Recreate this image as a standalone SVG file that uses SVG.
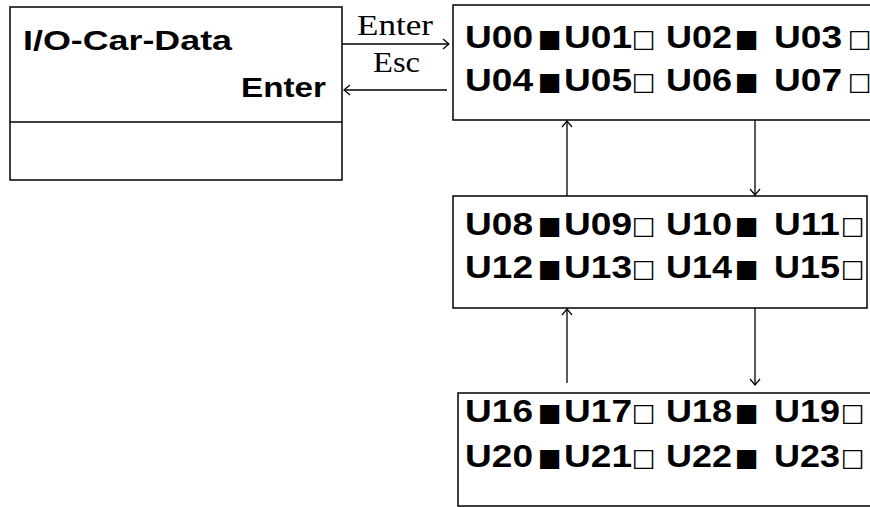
<svg xmlns="http://www.w3.org/2000/svg" width="870" height="507" viewBox="0 0 870 507">
<defs>
<style>
.box{fill:#fff;stroke:#000;stroke-width:1.5}
.u{font-family:"Liberation Sans",Arial,sans-serif;font-weight:bold;font-size:32px;fill:#000}
.t{font-family:"Liberation Sans",Arial,sans-serif;font-weight:bold;font-size:27px;fill:#000}
.sq{font-family:"DejaVu Sans",sans-serif;font-size:25px;fill:#000}
.lbl{font-family:"Liberation Serif","Times New Roman",serif;font-size:29px;fill:#000}
.c{fill:none;stroke:#000;stroke-width:1.3}
</style>
<marker id="ah" markerUnits="userSpaceOnUse" markerWidth="12" markerHeight="12" refX="8" refY="6" orient="auto">
<path d="M2,1 L8,6 L2,11" fill="none" stroke="#000" stroke-width="1.2"/>
</marker>
</defs>
<rect width="870" height="507" fill="#fff"/>
<g id="menu">
<rect class="box" x="10" y="7" width="332" height="173"/>
<line class="box" x1="10" y1="122" x2="342" y2="122"/>
<text class="t" x="23" y="50" textLength="209" lengthAdjust="spacingAndGlyphs">I/O-Car-Data</text>
<text class="t" x="241" y="97" textLength="85" lengthAdjust="spacingAndGlyphs">Enter</text>
</g>
<g id="page1">
<rect class="box" x="453" y="5" width="430" height="115"/>
<text class="u" x="465" y="48" textLength="68" lengthAdjust="spacingAndGlyphs">U00</text><text class="sq" x="538" y="47">■</text>
<text class="u" x="564" y="48" textLength="68" lengthAdjust="spacingAndGlyphs">U01</text><text class="sq" x="632" y="47">□</text>
<text class="u" x="666" y="48" textLength="66" lengthAdjust="spacingAndGlyphs">U02</text><text class="sq" x="735" y="47">■</text>
<text class="u" x="774" y="48" textLength="68" lengthAdjust="spacingAndGlyphs">U03</text><text class="sq" x="848" y="47">□</text>
<text class="u" x="465" y="91" textLength="68" lengthAdjust="spacingAndGlyphs">U04</text><text class="sq" x="538" y="90">■</text>
<text class="u" x="564" y="91" textLength="68" lengthAdjust="spacingAndGlyphs">U05</text><text class="sq" x="632" y="90">□</text>
<text class="u" x="666" y="91" textLength="66" lengthAdjust="spacingAndGlyphs">U06</text><text class="sq" x="735" y="90">■</text>
<text class="u" x="774" y="91" textLength="68" lengthAdjust="spacingAndGlyphs">U07</text><text class="sq" x="848" y="90">□</text>
</g>
<g id="page2">
<rect class="box" x="453" y="196" width="414" height="112"/>
<text class="u" x="465" y="235" textLength="68" lengthAdjust="spacingAndGlyphs">U08</text><text class="sq" x="538" y="234">■</text>
<text class="u" x="564" y="235" textLength="68" lengthAdjust="spacingAndGlyphs">U09</text><text class="sq" x="632" y="234">□</text>
<text class="u" x="666" y="235" textLength="66" lengthAdjust="spacingAndGlyphs">U10</text><text class="sq" x="735" y="234">■</text>
<text class="u" x="774" y="235" textLength="66" lengthAdjust="spacingAndGlyphs">U11</text><text class="sq" x="841" y="234">□</text>
<text class="u" x="465" y="278" textLength="68" lengthAdjust="spacingAndGlyphs">U12</text><text class="sq" x="538" y="277">■</text>
<text class="u" x="564" y="278" textLength="68" lengthAdjust="spacingAndGlyphs">U13</text><text class="sq" x="632" y="277">□</text>
<text class="u" x="666" y="278" textLength="66" lengthAdjust="spacingAndGlyphs">U14</text><text class="sq" x="735" y="277">■</text>
<text class="u" x="774" y="278" textLength="66" lengthAdjust="spacingAndGlyphs">U15</text><text class="sq" x="841" y="277">□</text>
</g>
<g id="page3">
<rect class="box" x="458" y="393" width="430" height="113"/>
<text class="u" x="465" y="422" textLength="68" lengthAdjust="spacingAndGlyphs">U16</text><text class="sq" x="538" y="421">■</text>
<text class="u" x="564" y="422" textLength="68" lengthAdjust="spacingAndGlyphs">U17</text><text class="sq" x="632" y="421">□</text>
<text class="u" x="666" y="422" textLength="66" lengthAdjust="spacingAndGlyphs">U18</text><text class="sq" x="735" y="421">■</text>
<text class="u" x="774" y="422" textLength="66" lengthAdjust="spacingAndGlyphs">U19</text><text class="sq" x="841" y="421">□</text>
<text class="u" x="465" y="467" textLength="68" lengthAdjust="spacingAndGlyphs">U20</text><text class="sq" x="538" y="466">■</text>
<text class="u" x="564" y="467" textLength="68" lengthAdjust="spacingAndGlyphs">U21</text><text class="sq" x="632" y="466">□</text>
<text class="u" x="666" y="467" textLength="66" lengthAdjust="spacingAndGlyphs">U22</text><text class="sq" x="735" y="466">■</text>
<text class="u" x="774" y="467" textLength="66" lengthAdjust="spacingAndGlyphs">U23</text><text class="sq" x="841" y="466">□</text>
</g>
<g id="connectors">
<path class="c" d="M342,44 H449" marker-end="url(#ah)"/>
<path class="c" d="M447,90 H344" marker-end="url(#ah)"/>
<path class="c" d="M567,196 V121" marker-end="url(#ah)"/>
<path class="c" d="M755,120 V195" marker-end="url(#ah)"/>
<path class="c" d="M567,383 V309" marker-end="url(#ah)"/>
<path class="c" d="M755,308 V385" marker-end="url(#ah)"/>
<text class="lbl" x="357" y="35" textLength="76" lengthAdjust="spacingAndGlyphs">Enter</text>
<text class="lbl" x="373" y="72" textLength="47" lengthAdjust="spacingAndGlyphs">Esc</text>
</g>
</svg>
